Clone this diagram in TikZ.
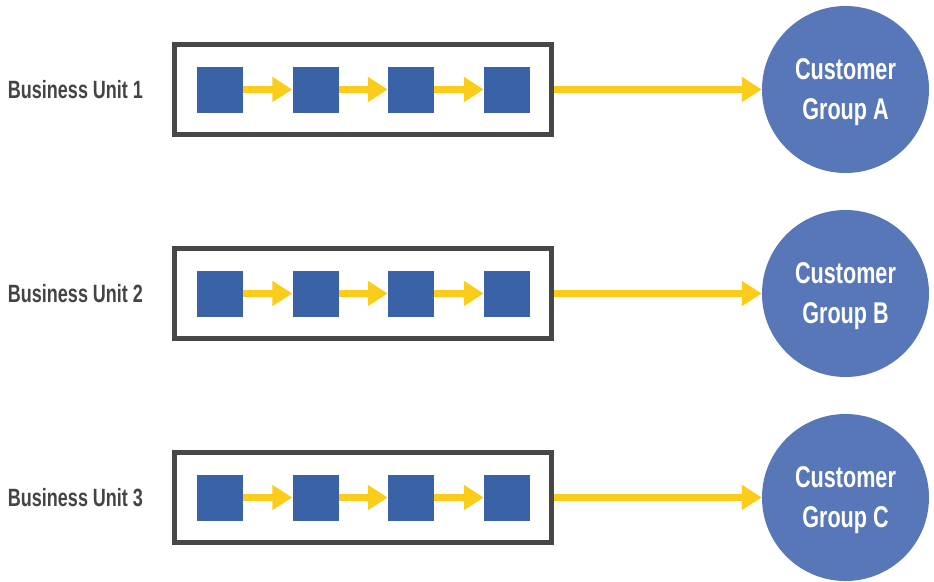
\documentclass[tikz,border=0pt]{standalone}
\usepackage{fontspec}
\setmainfont{Liberation Sans}[FakeStretch=0.72]
\usetikzlibrary{arrows.meta}
\definecolor{sq}{HTML}{3A62A7}
\definecolor{circ}{HTML}{5877B9}
\definecolor{yel}{HTML}{FCCC1A}
\definecolor{frame}{HTML}{474747}
\definecolor{txt}{HTML}{444444}
\tikzset{
  unitbox/.style={draw=frame, line width=5pt, minimum width=377pt, minimum height=90pt, inner sep=0pt},
  sqbox/.style={fill=sq, minimum size=46pt, inner sep=0pt},
  grp/.style={circle, fill=circ, minimum size=167pt, inner sep=0pt, text=white, align=center,
     text depth=0pt, font=\bfseries\fontsize{30}{40}\selectfont},
  unitlabel/.style={text=txt, font=\bfseries\fontsize{25}{30}\selectfont, inner sep=0pt},
  flow/.style={draw=yel, line width=7.5pt, -{Triangle[length=20pt,width=24pt]}},
}
\begin{document}
\begin{tikzpicture}[x=1pt,y=-1pt]
\useasboundingbox (0,0) rectangle (934,581);
\foreach \i/\cy/\g in {1/89.5/A,2/293.5/B,3/497.5/C}{
  \node[unitlabel] (lab\i) at (75.5,\cy) {Business Unit \i};
  \node[unitbox] (box\i) at (363,\cy) {};
  \node[sqbox] (s\i a) at (220,\cy) {};
  \node[sqbox] (s\i b) at (315.5,\cy) {};
  \node[sqbox] (s\i c) at (411,\cy) {};
  \node[sqbox] (s\i d) at (507,\cy) {};
  \node[grp] (g\i) at (845.5,\cy) {Customer\\Group \g};
  \draw[flow] (s\i a.east) -- (s\i b.west);
  \draw[flow] (s\i b.east) -- (s\i c.west);
  \draw[flow] (s\i c.east) -- (s\i d.west);
  \draw[flow] (box\i.east) -- (g\i.west);
}
\end{tikzpicture}
\end{document}
